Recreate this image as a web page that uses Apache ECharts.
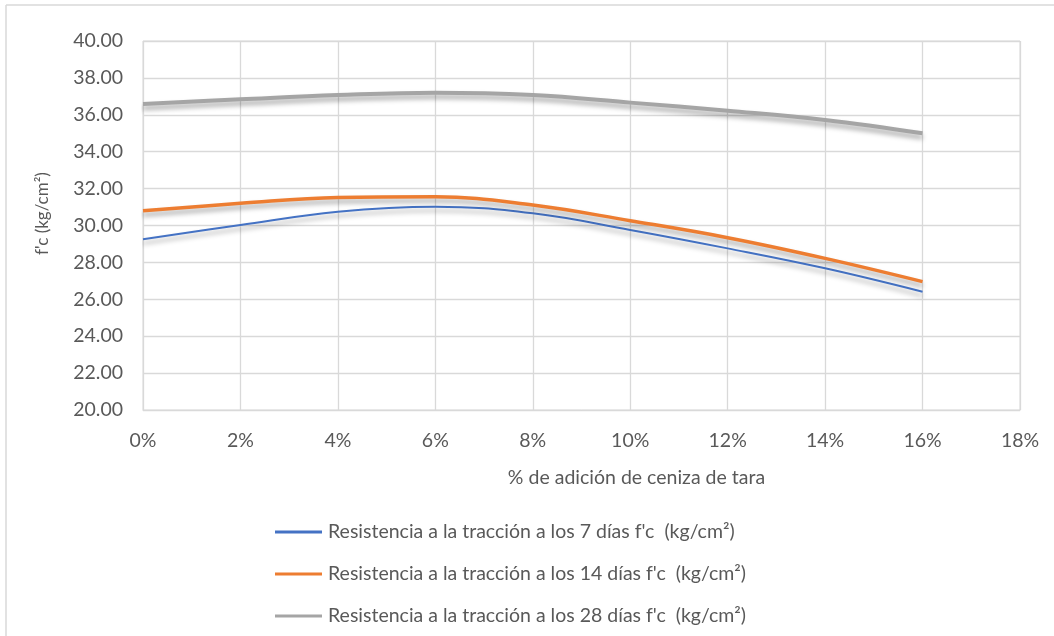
<!DOCTYPE html>
<html>
<head>
<meta charset="utf-8">
<script src="https://cdn.jsdelivr.net/npm/echarts@6/dist/echarts.min.js"></script>
<style>
  html, body { margin: 0; padding: 0; background: #fff; }
  #chart { width: 1054px; height: 636px; }
</style>
</head>
<body>
<div id="chart"></div>
<script>
// % de adición de ceniza de tara
const adicion = [0, 2, 4, 6, 8, 10, 12, 14, 16];
// Resistencia a la tracción (kg/cm²)
const dias7  = [29.25, 30.03, 30.75, 31.02, 30.66, 29.76, 28.76, 27.68, 26.41];
const dias14 = [30.80, 31.20, 31.52, 31.56, 31.11, 30.26, 29.34, 28.22, 26.96];
const dias28 = [36.59, 36.84, 37.07, 37.20, 37.07, 36.66, 36.22, 35.72, 35.00];
const nombres = [
  "Resistencia a la tracción a los 7 días f'c  (kg/cm²)",
  "Resistencia a la tracción a los 14 días f'c  (kg/cm²)",
  "Resistencia a la tracción a los 28 días f'c  (kg/cm²)"
];
const colores = ['#4472C4', '#ED7D31', '#A5A5A5'];
const grosores = [2, 3.5, 4];

const FONT = 'Lato';
const TXT = '#595959';

const chart = echarts.init(document.getElementById('chart'));

const serie = (i, vals) => ({
  name: nombres[i],
  type: 'line',
  smooth: 0.4,
  symbol: 'none',
  data: adicion.map((x, k) => [x, vals[k]]),
  lineStyle: {
    color: colores[i],
    width: grosores[i],
    shadowColor: 'rgba(0,0,0,0.35)',
    shadowBlur: 5,
    shadowOffsetY: 4
  },
  itemStyle: { color: colores[i] },
  z: 3 + i
});

chart.setOption({
  animation: false,
  backgroundColor: '#fff',
  graphic: [
    { type: 'line', shape: { x1: 6, y1: 5, x2: 1054, y2: 5 }, style: { stroke: '#d9d9d9', lineWidth: 1.5 } },
    { type: 'line', shape: { x1: 6, y1: 5, x2: 6, y2: 636 }, style: { stroke: '#d9d9d9', lineWidth: 1.5 } }
  ],
  grid: { left: 143, right: 34, top: 41, bottom: 226, show: true, borderColor: '#d9d9d9', borderWidth: 1 },
  xAxis: {
    type: 'value',
    min: 0, max: 18, interval: 2,
    name: '% de adición de ceniza de tara',
    nameLocation: 'middle',
    nameGap: 58,
    nameTextStyle: { color: TXT, fontFamily: FONT, fontSize: 19.5, padding: [0, 0, 0, 110] },
    axisLine: { show: true, lineStyle: { color: '#d9d9d9', width: 1 } },
    axisTick: { show: false },
    axisLabel: { color: TXT, fontFamily: FONT, fontSize: 19.5, margin: 21, formatter: v => v + '%' },
    splitLine: { show: true, lineStyle: { color: '#d9d9d9', width: 1.3 } }
  },
  yAxis: {
    type: 'value',
    min: 20, max: 40, interval: 2,
    name: "f'c (kg/cm²)",
    nameLocation: 'middle',
    nameGap: 92,
    nameRotate: 90,
    nameTextStyle: { color: TXT, fontFamily: FONT, fontSize: 17, padding: [0, 0, 0, 24] },
    axisLine: { show: false },
    axisTick: { show: false },
    axisLabel: { color: TXT, fontFamily: FONT, fontSize: 19.5, margin: 20, formatter: v => v.toFixed(2) },
    splitLine: { show: true, lineStyle: { color: '#d9d9d9', width: 1.3 } }
  },
  legend: {
    orient: 'vertical',
    left: 270,
    top: 517,
    icon: 'rect',
    itemWidth: 47,
    itemHeight: 3,
    itemGap: 22,
    textStyle: { color: TXT, fontFamily: FONT, fontSize: 19.5, padding: [0, 0, 0, 1] },
    data: nombres
  },
  series: [serie(0, dias7), serie(1, dias14), serie(2, dias28)]
});
</script>
</body>
</html>
